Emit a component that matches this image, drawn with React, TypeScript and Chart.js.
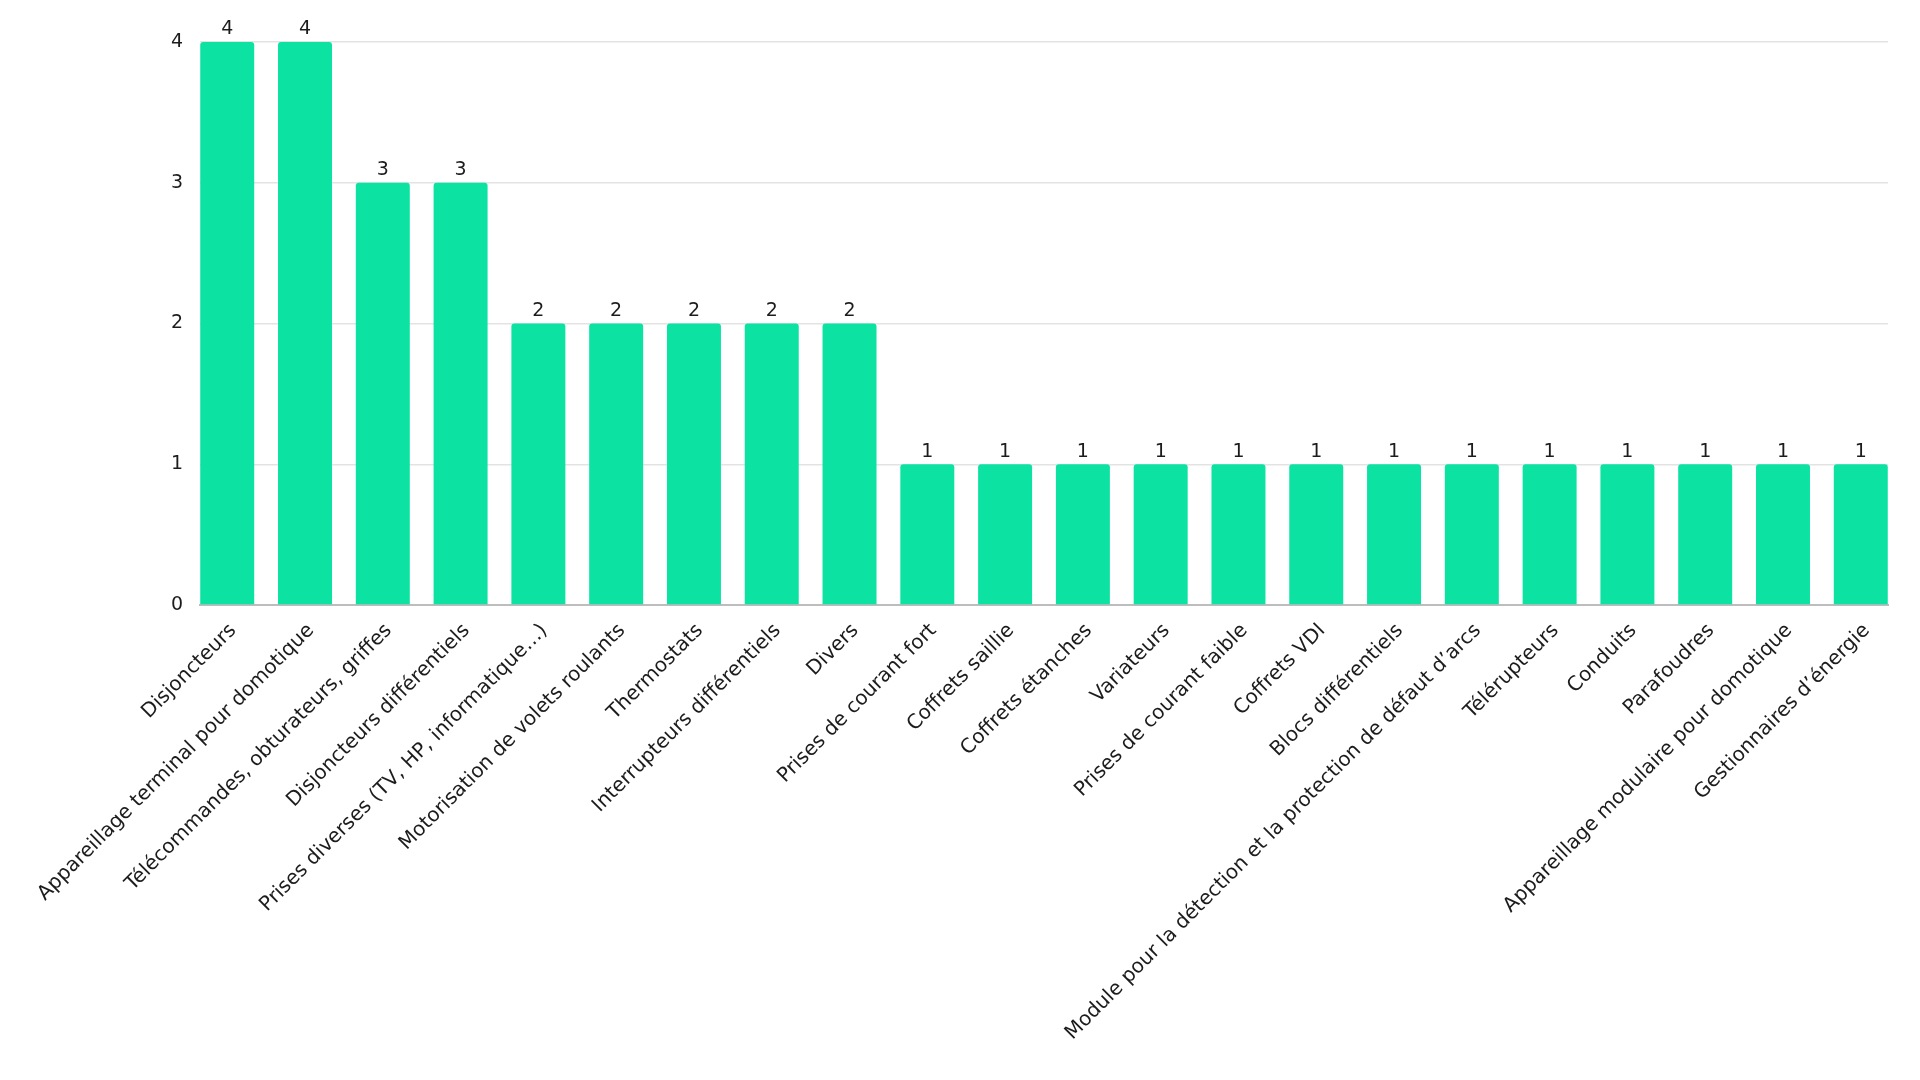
import React, { useEffect, useRef } from "react";
import { Chart, registerables } from "chart.js";

Chart.register(...registerables);

const categories: string[] = [
  "Disjoncteurs",
  "Appareillage terminal pour domotique",
  "Télécommandes, obturateurs, griffes",
  "Disjoncteurs différentiels",
  "Prises diverses (TV, HP, informatique…)",
  "Motorisation de volets roulants",
  "Thermostats",
  "Interrupteurs différentiels",
  "Divers",
  "Prises de courant fort",
  "Coffrets saillie",
  "Coffrets étanches",
  "Variateurs",
  "Prises de courant faible",
  "Coffrets VDI",
  "Blocs différentiels",
  "Module pour la détection et la protection de défaut d’arcs",
  "Télérupteurs",
  "Conduits",
  "Parafoudres",
  "Appareillage modulaire pour domotique",
  "Gestionnaires d’énergie",
];

const values: number[] = [4, 4, 3, 3, 2, 2, 2, 2, 2, 1, 1, 1, 1, 1, 1, 1, 1, 1, 1, 1, 1, 1];

const yTicks: number[] = [0, 1, 2, 3, 4];

const FONT = "'DejaVu Sans', sans-serif";
const TEXT = "#1c1c1c";

const valueLabels = {
  id: "valueLabels",
  afterDatasetsDraw(chart: any) {
    const ctx = chart.ctx;
    const meta = chart.getDatasetMeta(0);
    ctx.save();
    ctx.font = `19px ${FONT}`;
    ctx.fillStyle = TEXT;
    ctx.textAlign = "center";
    ctx.textBaseline = "bottom";
    meta.data.forEach((el: any, i: number) => {
      ctx.fillText(String(values[i]), el.x, el.y - 3);
    });
    ctx.restore();
  },
};

export default function App() {
  const ref = useRef<HTMLCanvasElement | null>(null);
  useEffect(() => {
    if (!ref.current) return;
    const chart = new Chart(ref.current, {
      type: "bar",
      data: {
        datasets: [
          {
            data: values.map((v, i) => ({ x: i, y: v })),
            backgroundColor: "#0ce3a2",
            borderRadius: { topLeft: 3, topRight: 3, bottomLeft: 0, bottomRight: 0 },
            borderSkipped: "bottom",
            categoryPercentage: 1,
            barPercentage: 0.694,
          } as any,
        ],
      },
      options: {
        animation: false,
        responsive: true,
        maintainAspectRatio: false,
        layout: { padding: { top: 42, right: 32, left: 0, bottom: 0 } },
        plugins: {
          legend: { display: false },
          tooltip: { enabled: false },
        },
        scales: {
          x: {
            type: "linear",
            min: -0.35,
            max: 21.35,
            offset: false,
            grid: { display: false },
            border: { display: true, color: "#bdbdbd", width: 2 },
            ticks: {
              stepSize: 1,
              includeBounds: false,
              autoSkip: false,
              maxRotation: 45,
              minRotation: 45,
              padding: 6,
              labelOffset: 6,
              color: TEXT,
              font: { family: FONT, size: 20 },
              callback: (v: any) => categories[v as number] ?? "",
            },
            afterFit: (s: any) => {
              s.height = 475;
            },
          },
          y: {
            min: 0,
            max: 4,
            afterBuildTicks: (s: any) => {
              s.ticks = yTicks.map((v) => ({ value: v }));
            },
            grid: { color: "#e3e3e3", lineWidth: 1.5, drawTicks: false },
            border: { display: false },
            ticks: {
              padding: 17,
              color: TEXT,
              font: { family: FONT, size: 19 },
            },
            afterFit: (s: any) => {
              s.width = 200;
            },
          },
        },
      } as any,
      plugins: [valueLabels],
    });
    return () => chart.destroy();
  }, []);
  return (
    <div style={{ position: "absolute", left: 0, top: 0, width: 1920, height: 1080, background: "#fff" }}>
      <canvas ref={ref} />
    </div>
  );
}
